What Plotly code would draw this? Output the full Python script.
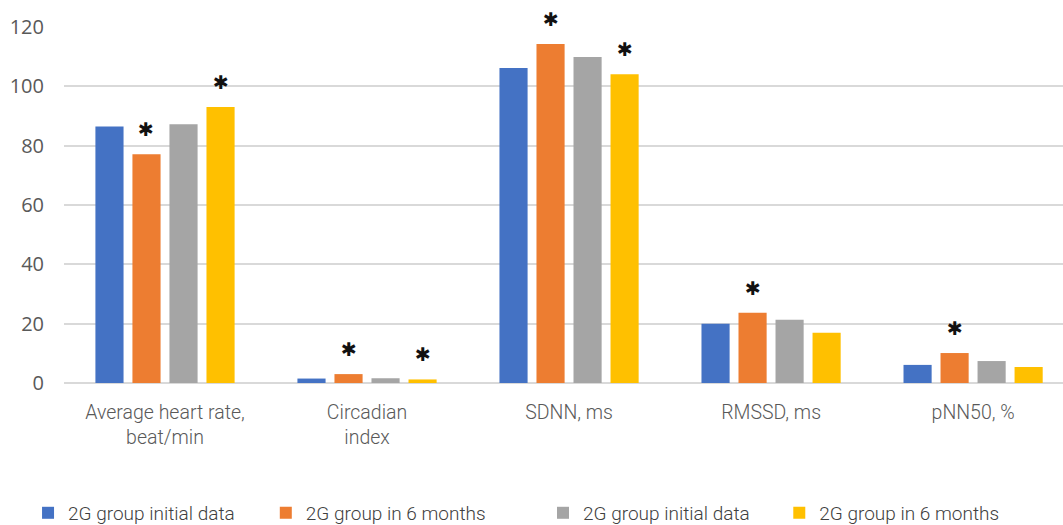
import plotly.graph_objects as go

categories = ["Average heart rate,<br>beat/min", "Circadian<br>index", "SDNN, ms", "RMSSD, ms", "pNN50, %"]
series_names = ["2G group initial data", "2G group in 6 months", "2G group initial data", "2G group in 6 months"]
blue_vals = [86.5, 1.5, 106.2, 20.0, 6.1]
orange_vals = [77.1, 3.0, 114.3, 23.7, 10.1]
gray_vals = [87.2, 1.6, 109.9, 21.3, 7.4]
yellow_vals = [93.0, 1.2, 104.1, 16.9, 5.4]
blue_star = [False, False, False, False, False]
orange_star = [True, True, True, True, True]
gray_star = [False, False, False, False, False]
yellow_star = [True, True, True, False, False]
y_ticks = [0, 20, 40, 60, 80, 100, 120]

colors = ["#4472C4", "#ED7D31", "#A5A5A5", "#FFC000"]
all_vals = [blue_vals, orange_vals, gray_vals, yellow_vals]
all_stars = [blue_star, orange_star, gray_star, yellow_star]
legend_ids = ["legend", "legend2", "legend3", "legend4"]
legend_x = [-0.036, 0.202, 0.4795, 0.716]

cond = "Roboto, sans-serif"

W, H = 1063, 525
ML, MR, MT, MB = 64, 0, 27, 142
x_range = [-0.5, 4.445]
bargap = 0.267
bargroupgap = 0.24

fig = go.Figure()
for i in range(4):
    fig.add_trace(go.Bar(
        x=categories, y=all_vals[i], name=series_names[i],
        marker=dict(color=colors[i], line=dict(width=0)),
        legend=legend_ids[i], hoverinfo="x+y",
    ))

# significance stars, placed on the bars through the axis scale
cat_px = (W - ML - MR) / (x_range[1] - x_range[0])
slot_px = cat_px * (1 - bargap) / 4
annotations = []
for i in range(4):
    for j, cat in enumerate(categories):
        if all_stars[i][j]:
            annotations.append(dict(
                x=cat, y=all_vals[i][j], xref="x", yref="y",
                text="\u2731", showarrow=False,
                xshift=(i - 1.5) * slot_px, yshift=25,
                yanchor="middle", xanchor="center",
                font=dict(size=19, color="#111111", family="DejaVu Sans"),
            ))

layout_legends = {}
for i in range(4):
    layout_legends[legend_ids[i]] = dict(
        x=legend_x[i], y=-0.365, xanchor="left", yanchor="middle",
        orientation="h", bgcolor="rgba(0,0,0,0)",
        font=dict(family=cond, size=19, color="#404040", weight=300),
        itemwidth=30,
    )

fig.update_layout(
    width=W, height=H,
    paper_bgcolor="white", plot_bgcolor="white",
    margin=dict(l=ML, r=MR, t=MT, b=MB, autoexpand=False),
    barmode="group", bargap=bargap, bargroupgap=bargroupgap,
    showlegend=True,
    annotations=annotations,
    **layout_legends,
)
fig.update_xaxes(
    range=x_range, showline=False, showgrid=False, ticks="",
    tickfont=dict(family=cond, size=19.5, color="#595959", weight=300),
    ticklabelstandoff=15,
)
fig.update_yaxes(
    range=[0, 120], tickvals=y_ticks, showgrid=True, gridcolor="#D9D9D9", gridwidth=1.5,
    zeroline=True, zerolinecolor="#D9D9D9", zerolinewidth=1.5,
    showline=False, ticks="",
    tickfont=dict(family="Open Sans, sans-serif", size=20, color="#595959"),
    ticklabelstandoff=19,
)

fig.write_html("out.html", config={"displayModeBar": False},
               post_script="document.body.style.margin='0px';")
